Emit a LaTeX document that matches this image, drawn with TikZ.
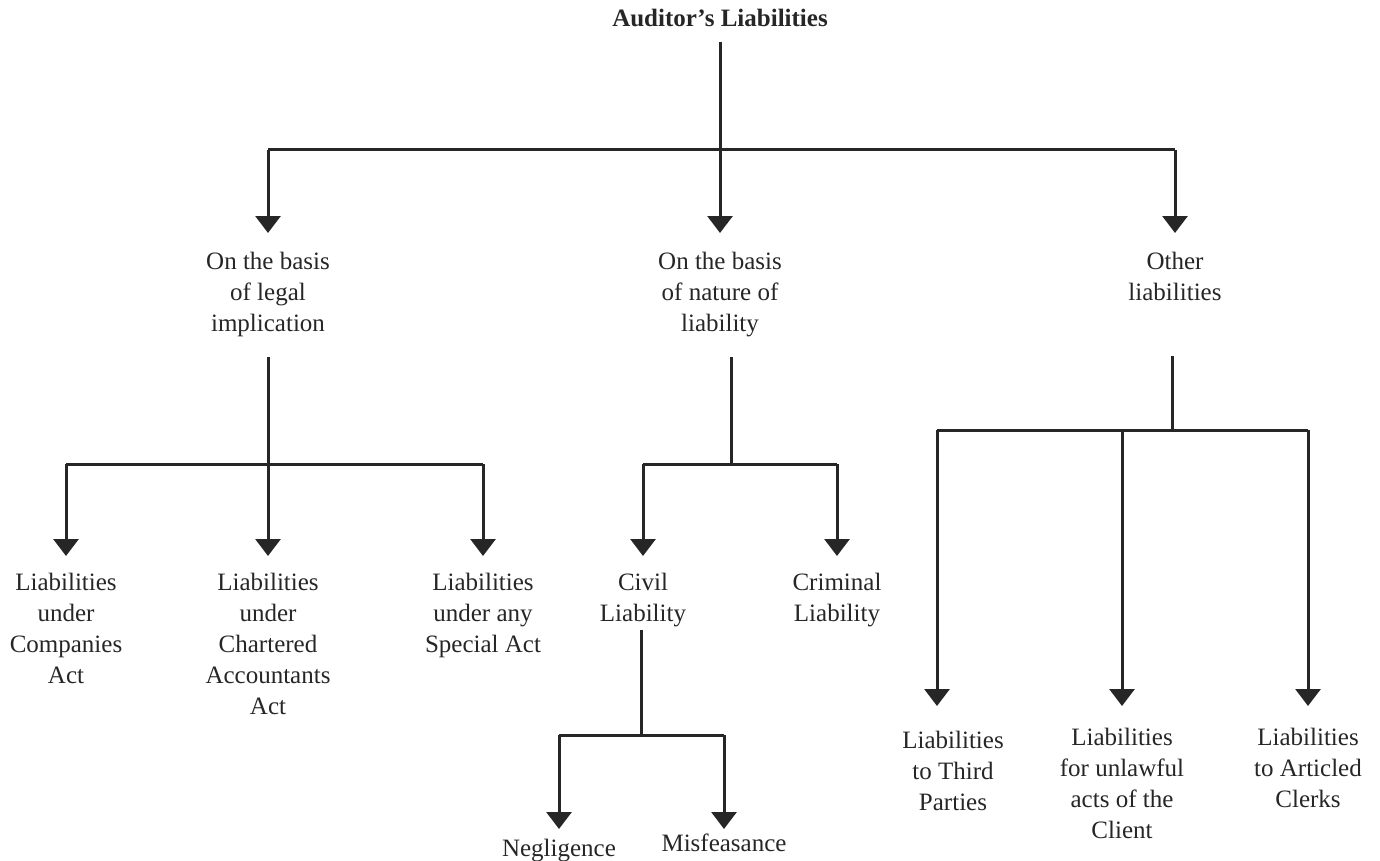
\documentclass[tikz,border=0pt]{standalone}
\usepackage{fontspec}
\setmainfont{Liberation Serif}
\usetikzlibrary{arrows.meta}
\begin{document}
\begin{tikzpicture}[x=1pt,y=-1pt,
  lbl/.style={font=\fontsize{25}{31}\selectfont, align=center, inner sep=0pt, anchor=north, text=black!85},
  ln/.style={line width=3pt, draw=black!85},
  arr/.style={ln, -{Triangle[width=25pt,length=17pt]}}]
\useasboundingbox (0,0) rectangle (1380,861);
% nodes
\node[lbl,font=\bfseries\fontsize{25}{31}\selectfont] (root) at (720,9) {Auditor’s Liabilities};
\node[lbl] (legal) at (268,252) {On the basis\\of legal\\implication};
\node[lbl] (nature) at (720,252) {On the basis\\of nature of\\liability};
\node[lbl] (other) at (1175,252) {Other\\liabilities};
\node[lbl] (comp) at (66,573) {Liabilities\\under\\Companies\\Act};
\node[lbl] (ca) at (268,573) {Liabilities\\under\\Chartered\\Accountants\\Act};
\node[lbl] (spec) at (483,573) {Liabilities\\under any\\Special Act};
\node[lbl] (civil) at (643,573) {Civil\\Liability};
\node[lbl] (crim) at (837,573) {Criminal\\Liability};
\node[lbl] (negl) at (559,839) {Negligence};
\node[lbl] (misf) at (724,834) {Misfeasance};
\node[lbl] (third) at (953,731) {Liabilities\\to Third\\Parties};
\node[lbl] (unlaw) at (1122,728) {Liabilities\\for unlawful\\acts of the\\Client};
\node[lbl] (artic) at (1308,728) {Liabilities\\to Articled\\Clerks};
% junction coordinates
\coordinate (t0) at (720,42);
\coordinate (b0) at (720,150);
\coordinate (b0l) at (268,150);
\coordinate (b0r) at (1175,150);
\coordinate (s1) at (268,357);
\coordinate (b1) at (268,464);
\coordinate (b1l) at (66,464);
\coordinate (b1r) at (483,464);
\coordinate (s2) at (731,357);
\coordinate (b2) at (731,464);
\coordinate (b2l) at (643,464);
\coordinate (b2r) at (837,464);
\coordinate (s3) at (1172,356);
\coordinate (b3) at (1172,430);
\coordinate (b3l) at (937,430);
\coordinate (b3m) at (1122,430);
\coordinate (b3r) at (1308,430);
\coordinate (s4) at (641,630);
\coordinate (b4) at (641,735);
\coordinate (b4l) at (559,735);
\coordinate (b4r) at (724,735);
% top
\draw[ln] (t0) -- (b0);
\draw[ln] (b0l) -- (b0r);
\draw[arr,shorten >=19pt] (b0l) -- (legal.north);
\draw[arr,shorten >=19pt] (b0) -- (nature.north);
\draw[arr,shorten >=19pt] (b0r) -- (other.north);
% legal
\draw[ln] (s1) -- (b1);
\draw[ln] (b1l) -- (b1r);
\draw[arr,shorten >=17pt] (b1l) -- (comp.north);
\draw[arr,shorten >=17pt] (b1) -- (ca.north);
\draw[arr,shorten >=17pt] (b1r) -- (spec.north);
% nature
\draw[ln] (s2) -- (b2);
\draw[ln] (b2l) -- (b2r);
\draw[arr,shorten >=17pt] (b2l) -- (civil.north);
\draw[arr,shorten >=17pt] (b2r) -- (crim.north);
% civil
\draw[ln] (s4) -- (b4);
\draw[ln] (b4l) -- (b4r);
\draw[arr,shorten >=10pt] (b4l) -- (negl.north);
\draw[arr,shorten >=5pt] (b4r) -- (misf.north);
% other
\draw[ln] (s3) -- (b3);
\draw[ln] (b3l) -- (b3r);
\draw[arr,shorten >=25pt] (b3l) -- (937,731);
\draw[arr,shorten >=22pt] (b3m) -- (unlaw.north);
\draw[arr,shorten >=22pt] (b3r) -- (artic.north);
\end{tikzpicture}
\end{document}
